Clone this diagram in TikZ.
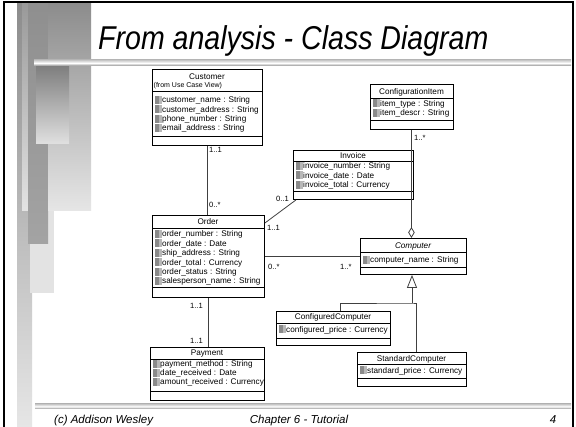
\documentclass[tikz,border=0pt]{standalone}
\usepackage{fontspec}
\usepackage{graphicx}
\setmainfont{Liberation Sans}
\usetikzlibrary{arrows.meta}

\definecolor{bargray}{HTML}{8C8C8C}
\definecolor{barlight}{HTML}{E6E6E6}
\definecolor{icondark}{HTML}{8A8A8A}
\definecolor{iconlite}{HTML}{B8B8B8}
\definecolor{linegray}{HTML}{404040}

% one attribute row: node name, left edge of the box, row centre, text
\newcommand{\attrline}[4]{%
  \fill[icondark] (#2+3,#3-4) rectangle (#2+7,#3+4);
  \fill[iconlite] (#2+7,#3-4) rectangle (#2+9.5,#3+4);
  \node[attr] (#1) at (#2+10,#3+3) {#4};
}

\begin{document}
\begin{tikzpicture}[x=1pt,y=-1pt,
  classbox/.style={draw=black, line width=0.9pt, fill=white, inner sep=0pt, anchor=north west},
  sepline/.style={line width=0.7pt},
  attr/.style={font=\fontsize{8.2}{9}\selectfont, inner sep=0pt, anchor=base west},
  cname/.style={font=\fontsize{8.2}{9}\selectfont, inner sep=0pt, anchor=base},
  mult/.style={font=\fontsize{7.6}{9}\selectfont, inner sep=0pt, anchor=base west},
  multr/.style={mult, anchor=base east},
  assoc/.style={line width=0.8pt, draw=linegray},
  aggtip/.style={-{Diamond[open, length=11pt, width=6.5pt, line width=0.8pt]}},
  gentip/.style={-{Triangle[open, length=13pt, width=10pt, line width=0.8pt]}},
  footer/.style={font=\fontsize{11.5}{13}\selectfont\itshape, inner sep=0pt, anchor=base},
  hbar/.style={top color=black!22, bottom color=black!45, middle color=white, draw=none}
]
\useasboundingbox (0,0) rectangle (576,427);
\fill[white] (0,0) rectangle (576,427);

% --- slide decoration on the left ---
\shade[top color=bargray, bottom color=barlight] (17,3) rectangle (32,427);
\fill[black!11] (30,211) rectangle (54,293);
\shade[top color=black!40, bottom color=black!11] (22,3) rectangle (28,211);
\shade[top color=black!44, bottom color=black!36] (28,3) rectangle (48,244);
\shade[top color=bargray, bottom color=barlight] (48,3) rectangle (91,211);
\shade[top color=black!50, bottom color=black!12] (36,67) rectangle (69,144);
\shade[hbar] (34,60) rectangle (571,66);
\shade[hbar] (35,404) rectangle (571,409);

% frame
\draw[line width=2pt] (3.7,427) -- (3.7,2.5) -- (572.5,2.5) -- (572.5,427);

% title and footer
\node[font=\fontsize{33}{36}\selectfont\itshape, inner sep=0pt, anchor=base west] (title)
  at (98,50) {\scalebox{0.865}[1]{From analysis - Class Diagram}};
\node[footer, anchor=base west] (foot1) at (54,424) {(c) Addison Wesley};
\node[footer] (foot2) at (299,424) {Chapter 6 - Tutorial};
\node[footer] (foot3) at (553,424) {4};

% --- Customer ---
\node[classbox, minimum width=110pt, minimum height=76pt] (cust) at (152,69) {};
\node[cname] (custn) at (207,80) {Customer};
\node[font=\fontsize{7}{8}\selectfont, inner sep=0pt, anchor=base west] (custf) at (153.5,87.5) {(from Use Case View)};
\draw[sepline] (cust.west |- 0,91) -- (cust.east |- 0,91);
\attrline{ca1}{152}{100}{customer\_name : String}
\attrline{ca2}{152}{109.3}{customer\_address : String}
\attrline{ca3}{152}{118.6}{phone\_number : String}
\attrline{ca4}{152}{128}{email\_address : String}
\draw[sepline] (cust.west |- 0,136) -- (cust.east |- 0,136);

% --- Order ---
\node[classbox, minimum width=112pt, minimum height=82pt] (order) at (152,215) {};
\node[cname] (ordern) at (208,225) {Order};
\draw[sepline] (order.west |- 0,228) -- (order.east |- 0,228);
\attrline{oa1}{152}{234}{order\_number : String}
\attrline{oa2}{152}{243.4}{order\_date : Date}
\attrline{oa3}{152}{252.8}{ship\_address : String}
\attrline{oa4}{152}{262.2}{order\_total : Currency}
\attrline{oa5}{152}{271.6}{order\_status : String}
\attrline{oa6}{152}{281}{salesperson\_name : String}
\draw[sepline] (order.west |- 0,287) -- (order.east |- 0,287);

% --- Payment ---
\node[classbox, minimum width=114pt, minimum height=53pt] (pay) at (150,347) {};
\node[cname] (payn) at (207,356) {Payment};
\draw[sepline] (pay.west |- 0,359) -- (pay.east |- 0,359);
\attrline{pa1}{150}{364}{payment\_method : String}
\attrline{pa2}{150}{373}{date\_received : Date}
\attrline{pa3}{150}{382}{amount\_received : Currency}
\draw[sepline] (pay.west |- 0,391) -- (pay.east |- 0,391);

% --- Invoice ---
\node[classbox, minimum width=120pt, minimum height=49pt] (inv) at (293,150) {};
\node[cname] (invn) at (353,159) {Invoice};
\draw[sepline] (inv.west |- 0,161) -- (inv.east |- 0,161);
\attrline{ia1}{293}{166}{invoice\_number : String}
\attrline{ia2}{293}{175.3}{invoice\_date : Date}
\attrline{ia3}{293}{184.6}{invoice\_total : Currency}
\draw[sepline] (inv.west |- 0,191) -- (inv.east |- 0,191);

% --- ConfigurationItem ---
\node[classbox, minimum width=83pt, minimum height=45pt] (cfg) at (370,84) {};
\node[cname] (cfgn) at (411.5,95) {ConfigurationItem};
\draw[sepline] (cfg.west |- 0,98) -- (cfg.east |- 0,98);
\attrline{ga1}{370}{103.5}{item\_type : String}
\attrline{ga2}{370}{113}{item\_descr : String}
\draw[sepline] (cfg.west |- 0,120) -- (cfg.east |- 0,120);

% --- Computer ---
\node[classbox, minimum width=106pt, minimum height=36pt] (comp) at (360,238) {};
\node[cname, font=\fontsize{8.2}{9}\selectfont\itshape] (compn) at (413,249) {Computer};
\draw[sepline] (comp.west |- 0,252) -- (comp.east |- 0,252);
\attrline{pc1}{360}{260}{computer\_name : String}
\draw[sepline] (comp.west |- 0,267) -- (comp.east |- 0,267);

% --- ConfiguredComputer ---
\node[classbox, minimum width=114pt, minimum height=34pt] (cfgd) at (276,311) {};
\node[cname] (cfgdn) at (333,320) {ConfiguredComputer};
\draw[sepline] (cfgd.west |- 0,323) -- (cfgd.east |- 0,323);
\attrline{da1}{276}{329.5}{configured\_price : Currency}
\draw[sepline] (cfgd.west |- 0,338) -- (cfgd.east |- 0,338);

% --- StandardComputer ---
\node[classbox, minimum width=109pt, minimum height=34pt] (std) at (357,352) {};
\node[cname] (stdn) at (411.5,362) {StandardComputer};
\draw[sepline] (std.west |- 0,364.5) -- (std.east |- 0,364.5);
\attrline{sa1}{357}{370.5}{standard\_price : Currency}
\draw[sepline] (std.west |- 0,378) -- (std.east |- 0,378);

% --- associations ---
\draw[assoc] (cust.south) -- (cust.south |- order.north);
\draw[assoc] (order.south) -- (order.south |- pay.north);
\draw[assoc] ([yshift=-8pt]order.north east) -- ([xshift=3pt]inv.south west);
\draw[assoc] (order.east) -- (comp.west);
\draw[assoc, aggtip] ([xshift=-0.5pt]cfg.south) -- ([xshift=-0.5pt]cfg.south |- comp.north);

% --- generalization ---
\coordinate (genbar) at (412,303);
\draw[assoc, gentip] (genbar) -- (genbar |- comp.south);
\draw[assoc] ([xshift=7pt]cfgd.north) |- (genbar) -| ([xshift=4.5pt]std.north);

% --- multiplicities ---
\node[mult] (m1) at (209,153) {1..1};
\node[mult] (m2) at (209,208) {0..*};
\node[mult] (m3) at (267,231) {1..1};
\node[mult] (m4) at (276,202) {0..1};
\node[mult] (m5) at (268,270) {0..*};
\node[mult] (m6) at (340,270) {1..*};
\node[mult] (m7) at (414,141) {1..*};
\node[multr] (m8) at (203,309) {1..1};
\node[multr] (m9) at (203,344) {1..1};
\end{tikzpicture}
\end{document}
